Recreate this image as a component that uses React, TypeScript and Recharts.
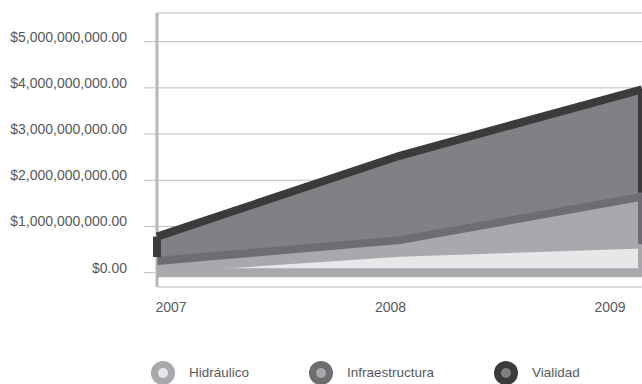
import React from 'react';
import { AreaChart, Area, XAxis, YAxis, CartesianGrid, ReferenceLine, Legend } from 'recharts';

const years = ['2007', '2008', '2009'];
const hidraulico = [0.08e9, 0.43e9, 0.61e9];
const infraestructura = [0.26e9, 0.36e9, 1.12e9];
const vialidad = [0.44e9, 1.74e9, 2.24e9];
const yTicks = [0, 1e9, 2e9, 3e9, 4e9, 5e9];

const FONT = '"Liberation Sans", Arial, sans-serif';
const TEXT = '#58595b';
const GRID = '#bcbec0';

const SERIES = [
  { key: 'hidraulico', name: 'Hidráulico', stroke: '#a7a9ac', fill: '#e6e7e8', width: 8 },
  { key: 'infraestructura', name: 'Infraestructura', stroke: '#6d6e71', fill: '#a7a9ac', width: 16 },
  { key: 'vialidad', name: 'Vialidad', stroke: '#3b3b3c', fill: '#808184', width: 8 },
];

const data = years.map((year, i) => ({
  year,
  hidraulico: hidraulico[i],
  infraestructura: infraestructura[i],
  vialidad: vialidad[i],
}));

const hidTop = hidraulico;
const infraTop = hidraulico.map((v, i) => v + infraestructura[i]);
const totalTop = infraTop.map((v, i) => v + vialidad[i]);
const last = years.length - 1;

const fmt = (v: number) =>
  '$' + v.toLocaleString('en-US', { minimumFractionDigits: 2, maximumFractionDigits: 2 });

const renderLegend = (props: any) => {
  const payload = props.payload || [];
  return (
    <div style={{ display: 'flex', alignItems: 'center', height: 22, paddingLeft: 143, fontFamily: FONT }}>
      {payload.map((entry: any) => {
        const s = SERIES.find((x) => x.key === entry.dataKey) || SERIES[0];
        return (
          <div key={s.key} style={{ display: 'flex', alignItems: 'center', marginRight: 60 }}>
            <svg width={24} height={22} style={{ overflow: 'visible', display: 'block' }}>
              <circle cx={12} cy={11} r={12} fill={s.stroke} />
              <circle cx={12} cy={11} r={5} fill={s.fill} />
            </svg>
            <span style={{ marginLeft: 14, fontSize: 13.5, color: TEXT, lineHeight: '22px' }}>{entry.value}</span>
          </div>
        );
      })}
    </div>
  );
};

export default function App() {
  return (
    <div
      style={{
        width: 642,
        height: 384,
        paddingLeft: 8,
        paddingTop: 8,
        boxSizing: 'border-box',
        overflow: 'hidden',
        fontFamily: FONT,
      }}
    >
      <style>{'html,body{margin:0;padding:0;overflow:hidden;}'}</style>
      <AreaChart width={634} height={376} data={data} margin={{ top: 5, right: 0, bottom: 0, left: 0 }}>
        <CartesianGrid vertical={false} stroke={GRID} strokeWidth={1} />
        <CartesianGrid
          horizontal={false}
          stroke="#b5b7b9"
          strokeWidth={3}
          verticalCoordinatesGenerator={(p: any) => [p.offset.left]}
        />
        <XAxis dataKey="year" hide height={0} />
        <XAxis
          xAxisId="labels"
          dataKey="year"
          padding={{ left: 14, right: 32 }}
          axisLine={false}
          tickLine={false}
          tickSize={0}
          tickMargin={15}
          height={75}
          tick={{ fill: TEXT, fontSize: 14, fontFamily: FONT }}
        />
        <YAxis
          type="number"
          width={149}
          domain={[-0.31e9, 5.62e9]}
          ticks={yTicks}
          interval={0}
          tickFormatter={fmt}
          axisLine={false}
          tickLine={{ stroke: GRID, strokeWidth: 1 }}
          tickSize={13}
          tickMargin={17}
          tick={{ fill: TEXT, fontSize: 14, fontFamily: FONT, dy: -5 }}
        />
        {SERIES.map((s) => (
          <Area
            key={s.key}
            type="linear"
            dataKey={s.key}
            name={s.name}
            stackId="1"
            stroke={s.stroke}
            strokeWidth={s.width}
            fill={s.fill}
            fillOpacity={1}
            isAnimationActive={false}
            dot={false}
            activeDot={false}
          />
        ))}
        <ReferenceLine y={0} stroke="#a7a9ac" strokeWidth={9} />
        <ReferenceLine
          segment={[{ x: years[0], y: infraTop[0] }, { x: years[0], y: totalTop[0] }]}
          stroke={SERIES[2].stroke}
          strokeWidth={8}
        />
        <ReferenceLine
          segment={[{ x: years[last], y: infraTop[last] }, { x: years[last], y: totalTop[last] }]}
          stroke={SERIES[2].stroke}
          strokeWidth={8}
        />
        <ReferenceLine
          segment={[{ x: years[last], y: hidTop[last] }, { x: years[last], y: infraTop[last] }]}
          stroke={SERIES[1].stroke}
          strokeWidth={8}
        />
        <ReferenceLine
          segment={[{ x: years[last], y: 0 }, { x: years[last], y: hidTop[last] }]}
          stroke={SERIES[0].stroke}
          strokeWidth={8}
        />
        <Legend
          verticalAlign="bottom"
          align="left"
          width={634}
          content={renderLegend}
        />
      </AreaChart>
    </div>
  );
}
